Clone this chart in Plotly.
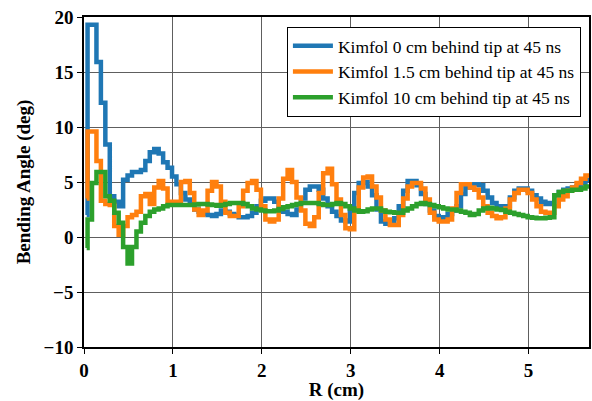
import plotly.graph_objects as go

# R grid (cm) — step positions of the histogram-like curves
R_start = 0.03
R_grid = [round(0.04 + 0.05 * i, 2) for i in range(114)]

blue_start = 2.0
blue_vals = [
    19.3, 19.3, 15.9, 12.2, 8.4, 3.7, 3.2, 2.8, 5.2, 5.6,
    5.9, 5.9, 6.1, 6.9, 7.7, 8.0, 7.6, 6.8, 6.3, 5.5,
    4.8, 4.0, 3.4, 3.0, 2.5, 2.3, 2.1, 2.0, 1.9, 2.1,
    2.4, 2.3, 2.1, 2.0, 1.8, 1.8, 1.9, 2.2, 2.8, 3.3,
    3.5, 3.5, 3.2, 2.7, 2.3, 2.1, 2.0, 2.5, 3.5, 4.3,
    4.6, 4.6, 4.3, 3.5, 2.8, 2.3, 1.9, 1.5, 1.4, 2.5,
    4.0, 4.9, 5.0, 4.6, 3.8, 2.5, 1.4, 1.2, 1.3, 1.7,
    2.8, 4.2, 5.1, 5.1, 4.7, 3.9, 3.0, 2.4, 1.9, 1.6,
    1.8, 2.1, 2.4, 2.8, 3.9, 4.5, 4.8, 4.8, 4.7, 4.2,
    3.6, 3.1, 2.8, 2.6, 2.8, 3.6, 4.2, 4.4, 4.4, 4.2,
    3.8, 3.5, 3.2, 3.0, 3.1, 3.8, 4.1, 4.3, 4.4, 4.5,
    4.6, 4.9, 5.2, 5.4,
]

orange_start = 3.5
orange_vals = [
    9.6, 9.6, 6.9, 3.3, 3.0, 2.9, 1.0, 0.2, 1.0, 1.8,
    2.0, 2.3, 3.7, 3.9, 3.0, 4.5, 5.1, 4.4, 3.2, 3.0,
    3.2, 5.0, 5.1, 4.0, 2.5, 2.0, 2.4, 4.2, 5.0, 4.6,
    3.2, 2.2, 1.9, 1.9, 2.8, 4.2, 4.9, 5.1, 4.3, 2.8,
    1.6, 1.4, 1.6, 3.5, 5.3, 6.1, 5.0, 3.6, 2.4, 1.2,
    1.0, 1.8, 4.0, 5.8, 6.2, 4.8, 3.4, 2.0, 0.8, 0.7,
    2.5, 4.5, 5.4, 5.5, 4.6, 3.6, 2.4, 1.6, 1.1, 1.1,
    2.0, 3.5, 4.6, 4.9, 4.9, 4.4, 3.4, 2.2, 1.6, 1.4,
    1.4, 1.6, 2.6, 4.0, 4.8, 4.8, 4.5, 4.3, 3.6, 2.8,
    2.2, 1.9, 1.7, 1.8, 2.6, 3.4, 4.0, 4.3, 4.3, 4.0,
    3.4, 2.8, 2.3, 2.2, 2.2, 2.8, 3.4, 3.7, 4.2, 4.5,
    4.9, 5.3, 5.6, 5.8,
]

green_start = -1.0
green_vals = [
    1.6, 4.9, 5.9, 5.9, 3.7, 3.3, 2.2, 1.3, -0.9, -2.4,
    -0.9, 0.5, 1.3, 1.9, 2.3, 2.5, 2.6, 2.8, 2.9, 2.9,
    2.9, 2.9, 2.9, 2.9, 2.95, 3.0, 3.0, 2.95, 2.9, 2.85,
    2.9, 3.0, 3.1, 3.1, 3.1, 3.0, 2.8, 2.6, 2.5, 2.4,
    2.35, 2.35, 2.4, 2.55, 2.7, 2.8, 2.9, 3.0, 3.1, 3.1,
    3.1, 3.1, 3.0, 2.9, 2.9, 3.0, 3.1, 3.0, 2.8, 2.6,
    2.4, 2.3, 2.35, 2.5, 2.6, 2.6, 2.4, 2.3, 2.25, 2.2,
    2.2, 2.4, 2.6, 2.8, 3.0, 3.1, 3.0, 2.9, 2.8, 2.7,
    2.6, 2.5, 2.5, 2.4, 2.3, 2.2, 2.0, 2.1, 2.4, 2.6,
    2.65, 2.6, 2.5, 2.45, 2.3, 2.2, 2.1, 2.0, 1.9, 1.8,
    1.75, 1.7, 1.7, 1.75, 1.8, 3.8, 4.1, 4.2, 4.2, 4.3,
    4.3, 4.4, 4.6, 4.8,
]

labels = [
    "Kimfol 0 cm behind tip at 45 ns",
    "Kimfol 1.5 cm behind tip at 45 ns",
    "Kimfol 10 cm behind tip at 45 ns",
]
colors = ["#1f77b4", "#ff7f0e", "#2ca02c"]

x_ticks = [0, 1, 2, 3, 4, 5]
y_ticks = [-10, -5, 0, 5, 10, 15, 20]

FONT = "Times New Roman, Liberation Serif, serif"

fig = go.Figure()
for name, start, vals, col in zip(labels, [blue_start, orange_start, green_start],
                                   [blue_vals, orange_vals, green_vals], colors):
    fig.add_trace(go.Scatter(
        x=[R_start] + R_grid, y=[start] + vals, mode="lines", name=name,
        line=dict(color=col, width=4.5, shape="hv"),
    ))

axis_common = dict(
    showline=True, linecolor="black", linewidth=1.5, mirror=True,
    showgrid=True, gridcolor="#5e5e5e", gridwidth=1.2,
    zeroline=False, ticks="outside", ticklen=5, tickwidth=1.2, tickcolor="black",
    tickfont=dict(family=FONT, size=19, color="black", weight="bold"),
)

fig.update_layout(
    width=592, height=401,
    margin=dict(l=84, r=1, t=17, b=54),
    paper_bgcolor="white", plot_bgcolor="white",
    showlegend=True,
    legend=dict(
        x=0.984, y=0.97, xanchor="right", yanchor="top",
        bgcolor="white", bordercolor="black", borderwidth=1,
        font=dict(family=FONT, size=17.5, color="black"),
        tracegroupgap=0, itemwidth=40,
    ),
    xaxis=dict(range=[0, 5.68], tickvals=x_ticks,
               title=dict(text="R (cm)", standoff=3,
                          font=dict(family=FONT, size=19, color="black", weight="bold")),
               **axis_common),
    yaxis=dict(range=[-10, 20], tickvals=y_ticks,
               title=dict(text="Bending Angle (deg)", standoff=8,
                          font=dict(family=FONT, size=19, color="black", weight="bold")),
               **axis_common),
)

fig.write_html("out.html")
